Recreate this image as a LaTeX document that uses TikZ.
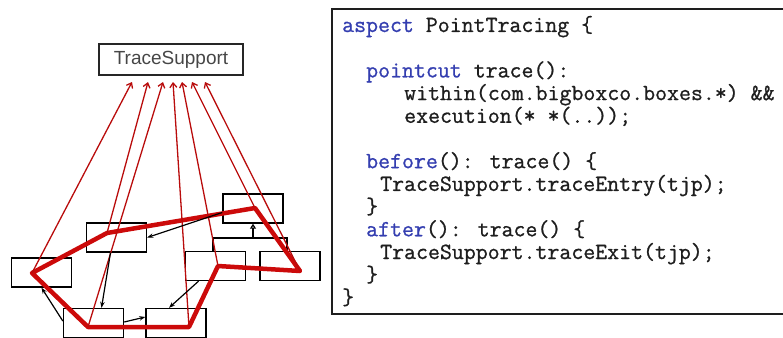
\documentclass[tikz,border=0pt]{standalone}
\usepackage{fontspec}
\setmainfont{Liberation Sans}
\newfontfamily\codefont{Latin Modern Mono}[FakeBold=0.9]
\usetikzlibrary{arrows.meta}
\definecolor{kwblue}{RGB}{52,62,176}
\definecolor{codeink}{RGB}{30,30,30}
\definecolor{tracered}{RGB}{204,10,10}
\definecolor{callred}{RGB}{185,12,12}
\definecolor{labelgray}{RGB}{70,70,70}
\newcommand\kw[1]{\textcolor{kwblue}{#1}}

\begin{document}
\begin{tikzpicture}[x=1pt,y=-1pt,
  cls/.style={draw=black, line width=1.4pt, inner sep=0pt,
    minimum width=60pt, minimum height=29pt},
  tracebox/.style={draw=black!85, line width=1.3pt, inner sep=0pt,
    minimum width=144pt, minimum height=31pt, text=labelgray,
    font=\fontsize{19}{19}\selectfont},
  flowpath/.style={draw=tracered, line width=4.5pt, line join=round},
  callarrow/.style={draw=callred, line width=1.3pt,
    -{Straight Barb[length=4.5pt,width=7pt,line width=1.3pt]}},
  msgarrow/.style={draw=black, line width=1.2pt,
    -{Stealth[length=6pt,width=4.5pt]}},
  codeline/.style={anchor=base west, inner sep=0pt, text=codeink,
    font=\fontsize{23.2}{24}\selectfont\codefont},
  codeframe/.style={draw=codeink, line width=2pt}
]
\useasboundingbox (0,0) rectangle (783,337);
\clip (0,0) rectangle (783,337);

% ---------------- class diagram ----------------
\node[tracebox] (ts) at (171,59.5) {TraceSupport};

\node[cls] (a) at (253,208.5) {};
\node[cls] (b) at (116.5,237.5) {};
\node[cls] (c) at (41.5,272.5) {};
\node[cls] (d) at (93.5,323) {};
\node[cls] (e) at (176,323) {};
\node[cls] (f) at (215.5,266) {};
\node[cls] (g) at (290,266) {};

% generalization: f and g extend a
\coordinate (gbar) at (253,238);
\draw[line width=1.2pt] ([xshift=-2.5pt]f.north) |- (gbar) -| ([xshift=-3pt]g.north);
\draw[line width=1.2pt, -{Triangle[open,length=5pt,width=6pt]}] (gbar) -- (a.south);

% points where the traced calls run
\coordinate (pa) at (255,208);
\coordinate (pb) at (107,233);
\coordinate (pc) at (32,273);
\coordinate (pd) at (88,327);
\coordinate (pe) at (189,327);
\coordinate (pf) at (218,266);
\coordinate (pg) at (300,271);

% control flow through the objects
\draw[flowpath] (pa) -- (pb) -- (pc) -- (pd) -- (pe) -- (pf) -- (pg) -- cycle;

% every join point reports to TraceSupport
\coordinate (t1) at (132,82);
\coordinate (t2) at (148,82);
\coordinate (t3) at (163,82);
\coordinate (t4) at (173,82);
\coordinate (t5) at (182,82);
\coordinate (t6) at (192,82);
\coordinate (t7) at (205,82);
\draw[callarrow] (pc) -- (t1);
\draw[callarrow] (pb) -- (t2);
\draw[callarrow] (pd) -- (t3);
\draw[callarrow] (pe) -- (t4);
\draw[callarrow] (pf) -- (t5);
\draw[callarrow] (pa) -- (t6);
\draw[callarrow] (pg) -- (t7);

% ordinary method calls
\draw[msgarrow] ([yshift=-4pt]a.west) -- (b.east);
\draw[msgarrow] ([xshift=-6pt]b.south) -- ([xshift=8pt]d.north);
\draw[msgarrow] ([yshift=2pt]d.west) -- (c.south);
\draw[msgarrow] ([yshift=1pt]d.east) -- ([yshift=6pt]e.west);
\draw[msgarrow] ([xshift=-17pt]f.south) -- ([xshift=-7pt]e.north);

% ---------------- aspect source ----------------
\draw[codeframe] (800,9) -| (332,314) -- (800,314);

\node[codeline] (l0)  at (342,32)    {\kw{aspect} PointTracing \{};
\node[codeline] (l2)  at (366,77.4)  {\kw{pointcut} trace():};
\node[codeline] (l3)  at (404,100.1) {within(com.bigboxco.boxes.*) \&\&};
\node[codeline] (l4)  at (404,122.8) {execution(* *(..));};
\node[codeline] (l6)  at (366,168.2) {\kw{before}(): trace() \{};
\node[codeline] (l7)  at (380,190.9) {TraceSupport.traceEntry(tjp);};
\node[codeline] (l8)  at (366,213.6) {\}};
\node[codeline] (l9)  at (366,236.3) {\kw{after}(): trace() \{};
\node[codeline] (l10) at (380,259)   {TraceSupport.traceExit(tjp);};
\node[codeline] (l11) at (366,281.7) {\}};
\node[codeline] (l12) at (342,304.4) {\}};
\end{tikzpicture}
\end{document}
